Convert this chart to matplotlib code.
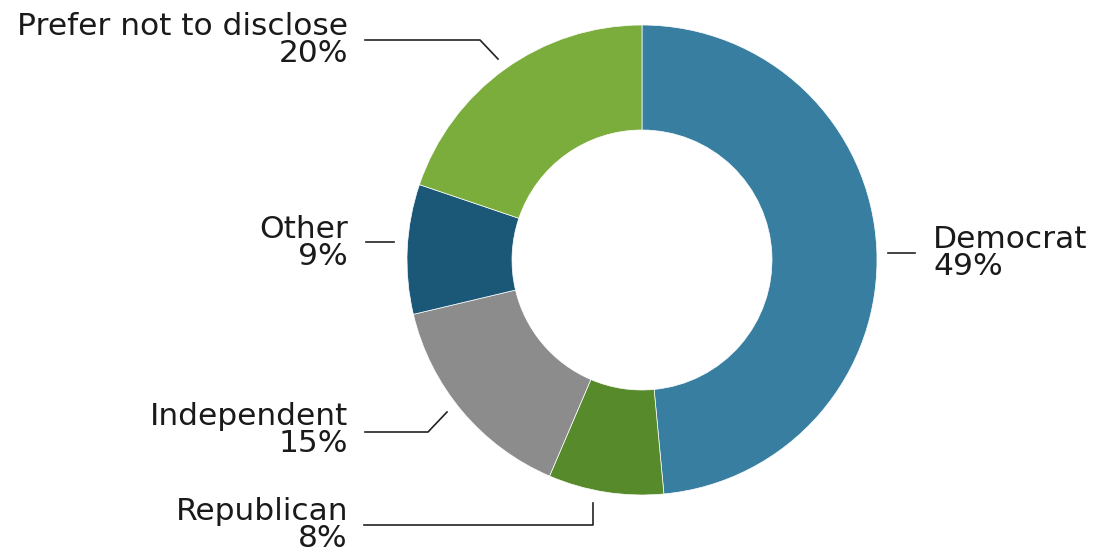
import matplotlib.pyplot as plt

# party share, clockwise from 12 o'clock
labels = ["Democrat", "Republican", "Independent", "Other", "Prefer not to disclose"]
shares = [49, 8, 15, 9, 20]
colors = ["#377ea0", "#578a2a", "#8c8c8c", "#1b5878", "#7bad3c"]

W, H = 1110, 552
fig = plt.figure(figsize=(W / 100, H / 100), dpi=100)
ax = fig.add_axes([0, 0, 1, 1])


def py(y):
    # pixel row from top -> data y
    return H - y


cx, cy, R = 642, py(260), 235
ax.pie(shares, colors=colors, startangle=90, counterclock=False,
       center=(cx, cy), radius=R, frame=True,
       wedgeprops=dict(width=R - 130, edgecolor="white", linewidth=0.5))
ax.set_xlim(0, W)
ax.set_ylim(0, H)
ax.set_aspect("equal")
ax.axis("off")

font = dict(family="DejaVu Sans", fontsize=22.5, color="#1a1a1a", linespacing=0.92)

# leader lines in pixel coords
leaders = {
    "Prefer not to disclose": [(365, 40), (480, 40), (498, 59)],
    "Democrat": [(888, 253), (915, 253)],
    "Other": [(366, 242), (394, 242)],
    "Independent": [(365, 432), (428, 432), (447, 412)],
    "Republican": [(364, 525), (593, 525), (593, 503)],
}
for pts in leaders.values():
    ax.plot([p[0] for p in pts], [py(p[1]) for p in pts], color="#222222", lw=1.2)

pos = {
    "Prefer not to disclose": (348, 40, "right"),
    "Democrat": (933, 253, "left"),
    "Other": (348, 243, "right"),
    "Independent": (348, 430, "right"),
    "Republican": (348, 525, "right"),
}
for lab, s in zip(labels, shares):
    x, y, ha = pos[lab]
    ax.text(x, py(y), f"{lab}\n{s}%", ha=ha, va="center", multialignment=ha, **font)

fig.savefig("out.png", dpi=100)
